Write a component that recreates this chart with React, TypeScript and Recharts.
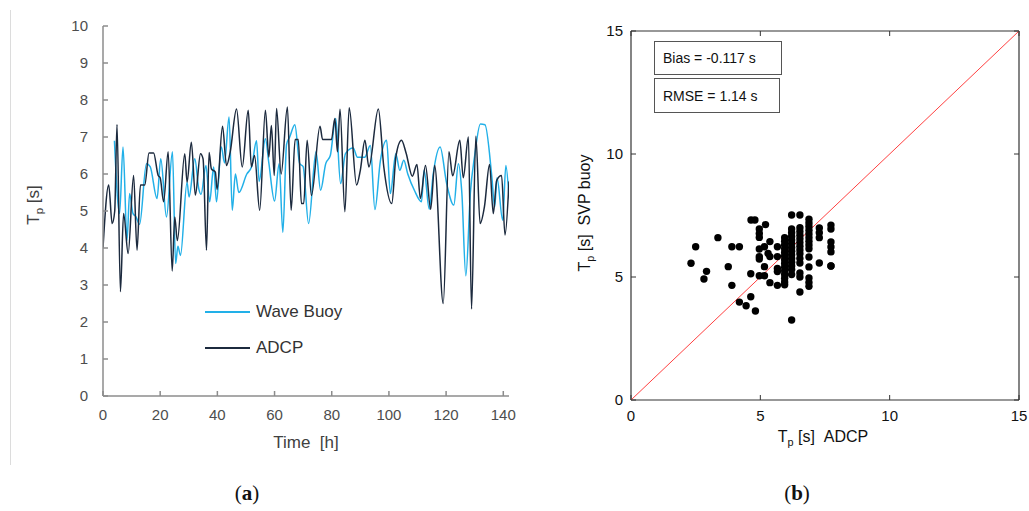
import React from 'react';
import { LineChart, Line, XAxis, YAxis, ScatterChart, Scatter } from 'recharts';

// ---- Panel (a): time series (hours, Tp in s) ----
const adcpTime = [0, 2, 3.2, 4.1, 4.9, 6.1, 7.2, 8.8, 10.7, 11.9, 13.1, 14.6, 16.1, 17.7, 19.3, 20, 21.2, 22.8, 24.2, 25.1, 26, 28.6, 29.4, 30.9, 32.3, 34.1, 35, 36.2, 37.1, 37.9, 39.3, 39.9, 41.8, 43.2, 44.5, 46.7, 48.7, 50.8, 51.9, 53, 54.8, 56.8, 58, 58.9, 59.9, 60.7, 62.3, 64.5, 65.8, 67.2, 68.3, 69.4, 70.2, 71.4, 72.9, 75.9, 76.8, 79.9, 81.1, 82, 82.9, 84.6, 86.1, 88.7, 90, 91.6, 93, 96.3, 98.2, 101, 102.5, 104.4, 106, 108.2, 109.8, 111, 112.8, 114.6, 116, 119, 121, 122.3, 124.8, 126, 127.8, 128.9, 130.4, 131.9, 133.4, 135.2, 136.5, 137.7, 139.4, 140.6, 142];
const adcpTp = [4.0, 5.7, 4.66, 5.0, 7.34, 2.82, 4.93, 3.85, 5.96, 3.94, 5.7, 5.7, 6.57, 6.57, 5.96, 5.9, 5.25, 6.6, 3.38, 4.84, 4.2, 6.55, 5.78, 6.86, 5.43, 6.55, 6.41, 3.94, 6.58, 6.14, 6.05, 5.58, 7.29, 6.23, 6.6, 7.76, 6.19, 7.72, 6.19, 6.5, 5.02, 7.72, 6.46, 7.31, 5.96, 7.77, 6.0, 7.81, 5.02, 6.93, 6.93, 5.2, 5.2, 6.91, 5.42, 7.29, 6.93, 6.93, 7.5, 6.6, 7.75, 4.98, 7.79, 5.7, 6.1, 6.91, 6.19, 7.76, 6.2, 5.2, 6.5, 6.91, 6.57, 5.94, 6.26, 5.34, 6.23, 5.05, 6.23, 2.5, 6.6, 5.95, 6.91, 5.9, 7.0, 2.35, 7.02, 4.66, 5.11, 6.26, 4.93, 5.83, 5.96, 4.35, 5.8];

const buoyTime = [4, 5.8, 7, 8.4, 9.3, 10.5, 11.5, 12.8, 15.2, 16.5, 18.9, 20.2, 22.2, 24.3, 25.4, 26.2, 27.1, 29.4, 30.1, 32.1, 33.5, 34.3, 36, 37.3, 38.7, 39.7, 41.4, 42.5, 44.1, 45.2, 46.3, 47.5, 50.3, 52, 53.7, 54.6, 56.8, 58, 60, 61.6, 62.9, 64.2, 65.3, 67.1, 68.8, 70, 71.9, 74.5, 76.1, 77.9, 79.5, 81.4, 83.1, 84.8, 87.5, 89, 91.5, 93.5, 95.1, 97, 99.2, 100.5, 102.4, 103.8, 105.2, 106.6, 108.9, 111.4, 112.3, 114.1, 115.5, 117.9, 120.2, 122.7, 124.3, 125.5, 126.9, 128.5, 130, 132, 133.6, 136, 137, 137.8, 139.8, 140.9, 142];
const buoyTp = [6.9, 4.93, 6.73, 4.21, 5.47, 4.93, 4.85, 4.64, 6.28, 6.2, 5.34, 6.41, 4.84, 6.6, 3.58, 4.05, 3.8, 5.78, 5.38, 6.41, 5.6, 5.45, 6.23, 5.25, 6.19, 5.25, 6.73, 6.3, 7.54, 5.02, 6.0, 5.5, 6.0, 6.2, 6.9, 5.8, 6.95, 6.3, 5.27, 6.28, 4.42, 6.8, 7.0, 7.33, 6.28, 6.2, 4.66, 6.6, 5.56, 6.28, 6.5, 7.5, 5.74, 6.55, 6.7, 6.45, 6.45, 6.77, 5.04, 6.35, 6.91, 5.47, 6.55, 6.1, 6.37, 6.0, 5.56, 5.25, 6.1, 5.05, 6.0, 6.73, 5.74, 5.16, 6.28, 5.5, 3.25, 5.5, 6.5, 7.35, 7.33, 5.92, 5.11, 5.9, 4.75, 6.23, 5.34];

const timeTicks = [0, 20, 40, 60, 80, 100, 120, 140];
const tpTicks = [0, 1, 2, 3, 4, 5, 6, 7, 8, 9, 10];

// ---- Panel (b): scatter Tp ADCP vs Tp SVP buoy ----
const scatterAdcp = [
  2.32, 2.5, 2.82, 2.92, 3.36, 3.76, 3.9, 3.9, 4.19, 4.19, 4.45, 4.64, 4.79, 4.63, 4.63, 4.81,
  4.96, 4.96, 4.96, 4.96, 4.96, 4.96, 4.96,
  5.2, 5.16, 5.16, 5.16, 5.37, 5.3, 5.37, 5.37,
  5.66, 5.66, 5.66, 5.66, 5.66,
  5.94, 5.94, 5.94, 5.94, 5.94, 5.94, 5.94, 5.94, 5.94, 5.94, 5.94, 5.94, 5.94, 5.94,
  6.21, 6.21, 6.21, 6.21, 6.21, 6.21, 6.21, 6.21, 6.21, 6.21, 6.21, 6.21, 6.21, 6.21, 6.21,
  6.53, 6.53, 6.53, 6.53, 6.53, 6.53, 6.53, 6.53, 6.53, 6.53, 6.53, 6.53, 6.53, 6.53,
  6.88, 6.88, 6.88, 6.88, 6.88, 6.88, 6.88, 6.88, 6.88, 6.88, 6.88, 6.88, 6.88, 6.88,
  7.28, 7.28, 7.28, 7.28,
  7.73, 7.73, 7.73, 7.73, 7.73, 7.73, 7.73,
];
const scatterBuoy = [
  5.56, 6.23, 4.92, 5.23, 6.6, 5.42, 6.23, 4.66, 6.23, 3.98, 3.83, 7.32, 7.32, 5.13, 4.2, 3.62,
  6.95, 6.77, 6.61, 6.14, 5.83, 5.73, 5.05,
  7.13, 6.23, 5.42, 5.05, 6.44, 5.96, 5.83, 4.77,
  6.23, 5.83, 5.35, 5.22, 4.66,
  6.6, 6.45, 6.3, 6.15, 6.0, 5.85, 5.7, 5.55, 5.4, 5.25, 5.1, 4.95, 4.8, 4.68,
  7.52, 6.95, 6.8, 6.65, 6.5, 6.35, 6.2, 6.05, 5.9, 5.75, 5.6, 5.45, 5.3, 5.1, 3.25,
  7.52, 7.0, 6.85, 6.7, 6.55, 6.4, 6.25, 6.1, 5.95, 5.75, 5.57, 5.16, 5.0, 4.39,
  7.35, 7.2, 7.05, 6.9, 6.75, 6.6, 6.45, 6.3, 6.15, 5.81, 5.41, 4.96, 4.78, 4.62,
  6.99, 6.8, 6.6, 5.57,
  7.11, 6.95, 6.42, 6.22, 6.02, 5.45, 5.45,
];
const scatterTicks = [0, 5, 10, 15];
const oneToOne = [0, 15];

const adcpData = adcpTime.map((t, i) => ({ t, v: adcpTp[i] }));
const buoyData = buoyTime.map((t, i) => ({ t, v: buoyTp[i] }));
const scatterData = scatterAdcp.map((x, i) => ({ x, y: scatterBuoy[i] }));
const diagData = oneToOne.map((v) => ({ x: v, y: v }));

const FONT = '"Liberation Sans", Arial, sans-serif';
const GRAY = '#8c8c8c';
const DARK = '#1c2a3e';
const BLUE = '#22b0e8';

const LeftYTick = (p: any) => (
  <g>
    <line x1={p.x} x2={p.x + 5} y1={p.y} y2={p.y} stroke={GRAY} strokeWidth={1.5} />
    <text x={p.x - 15} y={p.y} dy={5} textAnchor="end" fontFamily={FONT} fontSize={15} fill="#4d4d4d">
      {p.payload.value}
    </text>
  </g>
);
const LeftXTick = (p: any) => (
  <g>
    <line x1={p.x} x2={p.x} y1={p.y} y2={p.y - 5} stroke={GRAY} strokeWidth={1.5} />
    <text x={p.x} y={p.y + 24} textAnchor="middle" fontFamily={FONT} fontSize={15} fill="#4d4d4d">
      {p.payload.value}
    </text>
  </g>
);
const RYTick = (p: any) => (
  <g>
    <line x1={p.x} x2={p.x + 5} y1={p.y} y2={p.y} stroke="#333" />
    <text x={p.x - 8} y={p.y} dy={5} textAnchor="end" fontFamily={FONT} fontSize={15} fill="#111">
      {p.payload.value}
    </text>
  </g>
);
const RXTick = (p: any) => (
  <g>
    <line x1={p.x} x2={p.x} y1={p.y} y2={p.y - 5} stroke="#333" />
    <text x={p.x} y={p.y + 21} textAnchor="middle" fontFamily={FONT} fontSize={15} fill="#111">
      {p.payload.value}
    </text>
  </g>
);
const TopTick = (p: any) => (
  <line x1={p.x} x2={p.x} y1={p.y} y2={p.y + 5} stroke="#333" />
);
const RightTick = (p: any) => (
  <line x1={p.x} x2={p.x - 5} y1={p.y} y2={p.y} stroke="#333" />
);

const Dot = (p: any) => <circle cx={p.cx} cy={p.cy} r={3.7} fill="#000" />;
const NoDot = () => <g />;

const Tp = () => (
  <span>
    T<span style={{ fontSize: '0.68em', position: 'relative', top: '0.35em' }}>p</span>
  </span>
);

const abs = (left: number, top: number, extra: any = {}) => ({
  position: 'absolute' as const,
  left,
  top,
  ...extra,
});

export default function App() {
  return (
    <div style={{ position: 'absolute', left: 0, top: 0, width: 1029, height: 511, background: '#fff', fontFamily: FONT }}>
      <div style={abs(10, 10, { width: 1, height: 455, background: '#dcdcdc' })} />

      {/* Panel (a) */}
      <div style={abs(0, 0)}>
        <LineChart width={530} height={470} margin={{ top: 26, right: 21, bottom: 44, left: 43 }}>
          <XAxis
            type="number"
            dataKey="t"
            domain={[0, 142]}
            ticks={timeTicks}
            interval={0}
            height={30}
            tickSize={0}
            tickMargin={0}
            tickLine={false}
            tick={<LeftXTick />}
            axisLine={{ stroke: GRAY, strokeWidth: 1.5 }}
            allowDataOverflow
          />
          <YAxis
            type="number"
            domain={[0, 10]}
            ticks={tpTicks}
            interval={0}
            width={60}
            tickSize={0}
            tickMargin={0}
            tickLine={false}
            tick={<LeftYTick />}
            axisLine={{ stroke: GRAY, strokeWidth: 1.5 }}
          />
          <Line data={buoyData} dataKey="v" type="monotone" stroke={BLUE} strokeWidth={1.5} dot={false} isAnimationActive={false} />
          <Line data={adcpData} dataKey="v" type="monotone" stroke={DARK} strokeWidth={1.5} dot={false} isAnimationActive={false} />
        </LineChart>
      </div>

      <div style={abs(34, 205, { transform: 'translate(-50%, -50%) rotate(-90deg)', whiteSpace: 'nowrap', fontSize: 17, color: '#404040' })}>
        <Tp /> [s]
      </div>
      <div style={abs(306, 443, { transform: 'translate(-50%, -50%)', whiteSpace: 'nowrap', fontSize: 17, color: '#404040' })}>
        Time&nbsp;&nbsp;[h]
      </div>

      {/* legend */}
      <div style={abs(205, 311, { width: 45, height: 2, background: BLUE })} />
      <div style={abs(256, 312, { transform: 'translateY(-50%)', whiteSpace: 'nowrap', fontSize: 17, color: '#333' })}>Wave Buoy</div>
      <div style={abs(205, 347, { width: 45, height: 2, background: DARK })} />
      <div style={abs(256, 348, { transform: 'translateY(-50%)', whiteSpace: 'nowrap', fontSize: 17, color: '#333' })}>ADCP</div>

      <div style={abs(247, 493, { transform: 'translate(-50%, -50%)', fontFamily: '"Liberation Serif", serif', fontSize: 21, color: '#111' })}>
        (<b>a</b>)
      </div>

      {/* Panel (b) */}
      <div style={abs(540, 0)}>
        <ScatterChart width={489} height={470} margin={{ top: 30, right: 9, bottom: 40, left: 41 }}>
          <XAxis
            xAxisId="b"
            type="number"
            dataKey="x"
            domain={[0, 15]}
            ticks={scatterTicks}
            interval={0}
            height={30}
            tickSize={0}
            tickMargin={0}
            tickLine={false}
            tick={<RXTick />}
            axisLine={{ stroke: '#333', strokeWidth: 1.2 }}
          />
          <XAxis
            xAxisId="t"
            orientation="top"
            type="number"
            dataKey="x"
            domain={[0, 15]}
            ticks={scatterTicks}
            interval={0}
            height={1}
            tickSize={0}
            tickMargin={0}
            tickLine={false}
            tick={<TopTick />}
            axisLine={{ stroke: '#333', strokeWidth: 1.2 }}
          />
          <YAxis
            yAxisId="l"
            type="number"
            dataKey="y"
            domain={[0, 15]}
            ticks={scatterTicks}
            interval={0}
            width={50}
            tickSize={0}
            tickMargin={0}
            tickLine={false}
            tick={<RYTick />}
            axisLine={{ stroke: '#333', strokeWidth: 1.2 }}
          />
          <YAxis
            yAxisId="r"
            orientation="right"
            type="number"
            dataKey="y"
            domain={[0, 15]}
            ticks={scatterTicks}
            interval={0}
            width={1}
            tickSize={0}
            tickMargin={0}
            tickLine={false}
            tick={<RightTick />}
            axisLine={{ stroke: '#333', strokeWidth: 1.2 }}
          />
          <Scatter data={diagData} xAxisId="t" yAxisId="r" line={{ stroke: '#ff4040', strokeWidth: 1 }} shape={<NoDot />} isAnimationActive={false} />
          <Scatter data={scatterData} xAxisId="b" yAxisId="l" shape={<Dot />} isAnimationActive={false} />
        </ScatterChart>
      </div>

      <div style={abs(585, 213, { transform: 'translate(-50%, -50%) rotate(-90deg)', whiteSpace: 'nowrap', fontSize: 16, color: '#111' })}>
        <Tp /> [s]&nbsp;&nbsp;SVP buoy
      </div>
      <div style={abs(823, 437, { transform: 'translate(-50%, -50%)', whiteSpace: 'nowrap', fontSize: 16, color: '#111' })}>
        <Tp /> [s]&nbsp;&nbsp;ADCP
      </div>

      <div style={abs(654, 41, { width: 128, height: 34, boxSizing: 'border-box', border: '1px solid #555', background: '#fff', display: 'flex', alignItems: 'center', paddingLeft: 8, fontSize: 14, color: '#111', whiteSpace: 'nowrap' })}>
        Bias = -0.117 s
      </div>
      <div style={abs(654, 78, { width: 126, height: 35, boxSizing: 'border-box', border: '1px solid #555', background: '#fff', display: 'flex', alignItems: 'center', paddingLeft: 8, fontSize: 14, color: '#111', whiteSpace: 'nowrap' })}>
        RMSE = 1.14 s
      </div>

      <div style={abs(797, 493, { transform: 'translate(-50%, -50%)', fontFamily: '"Liberation Serif", serif', fontSize: 21, color: '#111' })}>
        (<b>b</b>)
      </div>
    </div>
  );
}
